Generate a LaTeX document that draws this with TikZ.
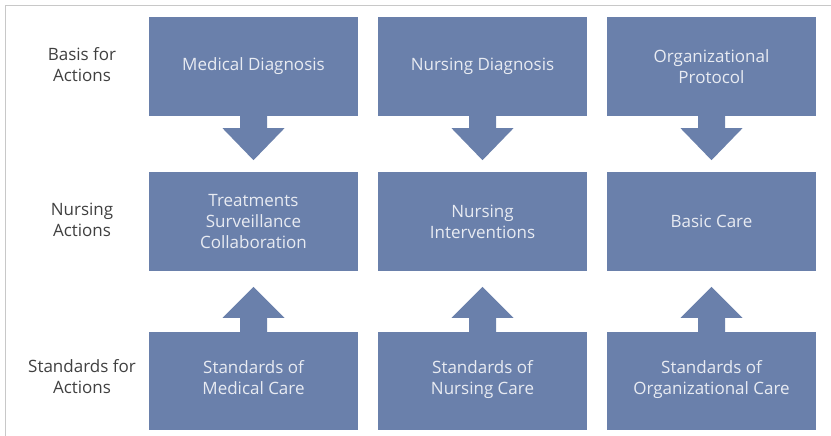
\documentclass[tikz,border=0pt]{standalone}
\usepackage{fontspec}
\setmainfont{Open Sans}
\usepackage{tikz}

\definecolor{boxblue}{RGB}{106,128,171}
\definecolor{boxtext}{RGB}{232,235,242}
\definecolor{labeltext}{RGB}{64,64,64}
\definecolor{framegray}{RGB}{200,200,200}

\tikzset{
  stage/.style={fill=boxblue, text=boxtext, minimum width=209pt, minimum height=99pt,
    inner sep=0pt, align=center, font=\fontsize{17}{21}\selectfont},
  rowlabel/.style={text=labeltext, align=center, font=\fontsize{17}{21}\selectfont},
  blockarrow/.style={fill=boxblue}
}

\begin{document}
\begin{tikzpicture}[x=1pt, y=-1pt]
\useasboundingbox (0,0) rectangle (831,436);
\draw[framegray, line width=1pt] (5,436) -- (5,6) -- (831,6);

% row labels
\node[rowlabel] (basis) at (82,65) {Basis for\\Actions};
\node[rowlabel] (nursing) at (82,220) {Nursing\\Actions};
\node[rowlabel] (standards) at (82,377) {Standards for\\Actions};

% basis for actions
\node[stage] (meddiag) at (253.5,66.5) {Medical Diagnosis};
\node[stage] (nursdiag) at (482.5,66.5) {Nursing Diagnosis};
\node[stage] (orgprot) at (711.5,66.5) {Organizational\\Protocol};

% nursing actions
\node[stage] (treat) at (253.5,221.5) {Treatments\\Surveillance\\Collaboration};
\node[stage] (interv) at (482.5,221.5) {Nursing\\Interventions};
\node[stage] (basic) at (711.5,221.5) {Basic Care};

% standards for actions
\node[stage, minimum height=98pt, text depth=7pt] (medcare) at (253.5,381) {Standards of\\Medical Care};
\node[stage, minimum height=98pt, text depth=7pt] (nurscare) at (482.5,381) {Standards of\\Nursing Care};
\node[stage, minimum height=98pt, text depth=7pt] (orgcare) at (711.5,381) {Standards of\\Organizational Care};

% arrows down
\fill[blockarrow] (meddiag.south) ++(-13.5,0) -- ++(0,12) -- ++(-17.5,0) -- ++(31,32) -- ++(31,-32) -- ++(-17.5,0) -- ++(0,-12) -- cycle;
\fill[blockarrow] (nursdiag.south) ++(-13.5,0) -- ++(0,12) -- ++(-17.5,0) -- ++(31,32) -- ++(31,-32) -- ++(-17.5,0) -- ++(0,-12) -- cycle;
\fill[blockarrow] (orgprot.south) ++(-13.5,0) -- ++(0,12) -- ++(-17.5,0) -- ++(31,32) -- ++(31,-32) -- ++(-17.5,0) -- ++(0,-12) -- cycle;

% arrows up
\fill[blockarrow] (medcare.north) ++(-13.5,0) -- ++(0,-14) -- ++(-17.5,0) -- ++(31,-31) -- ++(31,31) -- ++(-17.5,0) -- ++(0,14) -- cycle;
\fill[blockarrow] (nurscare.north) ++(-13.5,0) -- ++(0,-14) -- ++(-17.5,0) -- ++(31,-31) -- ++(31,31) -- ++(-17.5,0) -- ++(0,14) -- cycle;
\fill[blockarrow] (orgcare.north) ++(-13.5,0) -- ++(0,-14) -- ++(-17.5,0) -- ++(31,-31) -- ++(31,31) -- ++(-17.5,0) -- ++(0,14) -- cycle;
\end{tikzpicture}
\end{document}
